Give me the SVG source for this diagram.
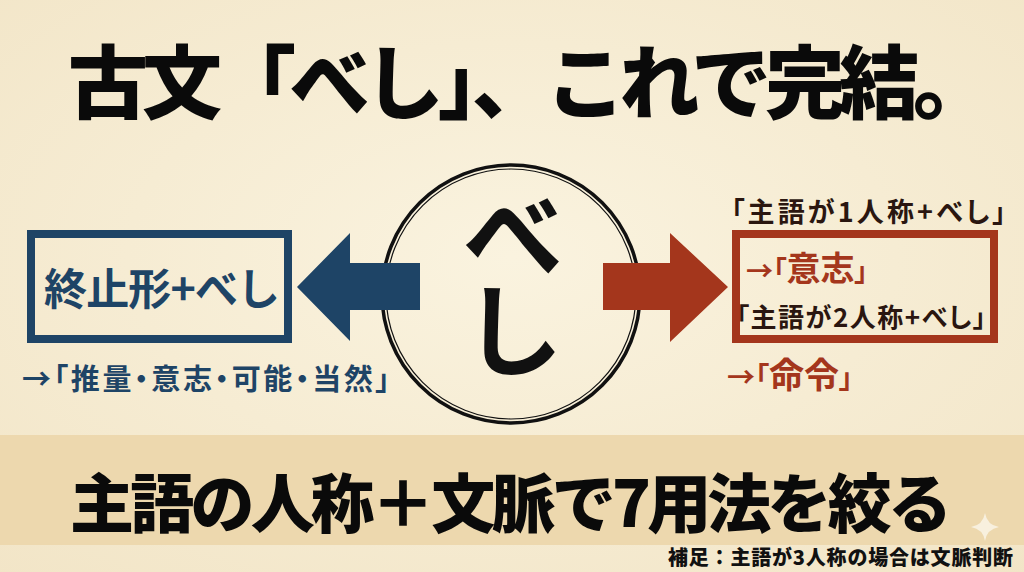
<svg xmlns="http://www.w3.org/2000/svg" width="1024" height="572" viewBox="0 0 1024 572">
<defs>
<radialGradient id="paper" cx="50%" cy="45%" r="75%">
<stop offset="0" stop-color="#FAF3DF"/>
<stop offset="1" stop-color="#F2E5C7"/>
</radialGradient>
<style>
text{font-family:"Noto Sans CJK JP","Noto Sans CJK SC",sans-serif;}
.palt{font-feature-settings:"palt" 1;}
.title{font-size:80px;font-weight:900;fill:#0A0A0A;}
.band{font-size:64px;font-weight:900;fill:#0A0A0A;}
.blue{fill:#1E4466;font-weight:700;}
.red{fill:#A4361C;font-weight:700;}
.dark{fill:#2A1610;font-weight:700;}
.note{font-size:20px;font-weight:900;fill:#111;}
.big{font-size:102px;font-weight:700;fill:#111;writing-mode:vertical-rl;letter-spacing:-7px;}
</style>
</defs>
<rect x="0" y="0" width="1024" height="572" fill="url(#paper)"/>
<g id="title"><text class="title" x="68" y="112" textLength="925" lengthAdjust="spacing">古文「べし」、これで完結。</text></g>
<g id="band">
<rect x="0" y="435" width="1024" height="110" fill="#EDD8AE"/>
<text class="band" x="70" y="527" textLength="882" lengthAdjust="spacing">主語の人称＋文脈で7用法を絞る</text>
</g>
<g id="sparkle"><path d="M985,513 Q987,525 999,527 Q987,529 985,541 Q983,529 971,527 Q983,525 985,513 Z" fill="#F8F0DE"/></g>
<g id="center">
<circle cx="511" cy="294" r="129" fill="none" stroke="#111" stroke-width="3.5"/>
<circle cx="511" cy="294" r="125" fill="none" stroke="#111" stroke-width="1.2"/>
<text class="big" x="513" y="184">べし</text>
</g>
<g id="connectors">
<polygon points="420,263 350,263 350,233 297,287 350,341 350,310 420,310" fill="#1E4466"/>
<polygon points="603,263 670,263 670,233 728,287 670,342 670,310 603,310" fill="#A4361C"/>
</g>
<g id="left-node">
<rect x="31" y="234" width="257" height="105" fill="none" stroke="#1E4466" stroke-width="8"/>
<text class="blue" x="44" y="305" font-size="43" textLength="236" lengthAdjust="spacing">終止形+べし</text>
<text class="blue palt" x="22" y="390" font-size="29" textLength="368" lengthAdjust="spacing">→「推量・意志・可能・当然」</text>
</g>
<g id="right-node">
<text class="dark palt" x="731" y="222" font-size="27" textLength="275" lengthAdjust="spacing">「主語が1人称+べし」</text>
<rect x="736" y="234" width="258" height="105" fill="none" stroke="#A4361C" stroke-width="8"/>
<text class="red palt" x="746" y="281"><tspan font-size="27">→「</tspan><tspan font-size="34">意志</tspan><tspan font-size="27">」</tspan></text>
<text class="dark palt" x="736" y="327" font-size="26" textLength="250" lengthAdjust="spacing">「主語が2人称+べし」</text>
<text class="red palt" x="727" y="388"><tspan font-size="28">→「</tspan><tspan font-size="35">命令</tspan><tspan font-size="28">」</tspan></text>
</g>
<g id="footnote"><text class="note" x="668" y="565" textLength="345" lengthAdjust="spacing">補足：主語が3人称の場合は文脈判断</text></g>
</svg>
